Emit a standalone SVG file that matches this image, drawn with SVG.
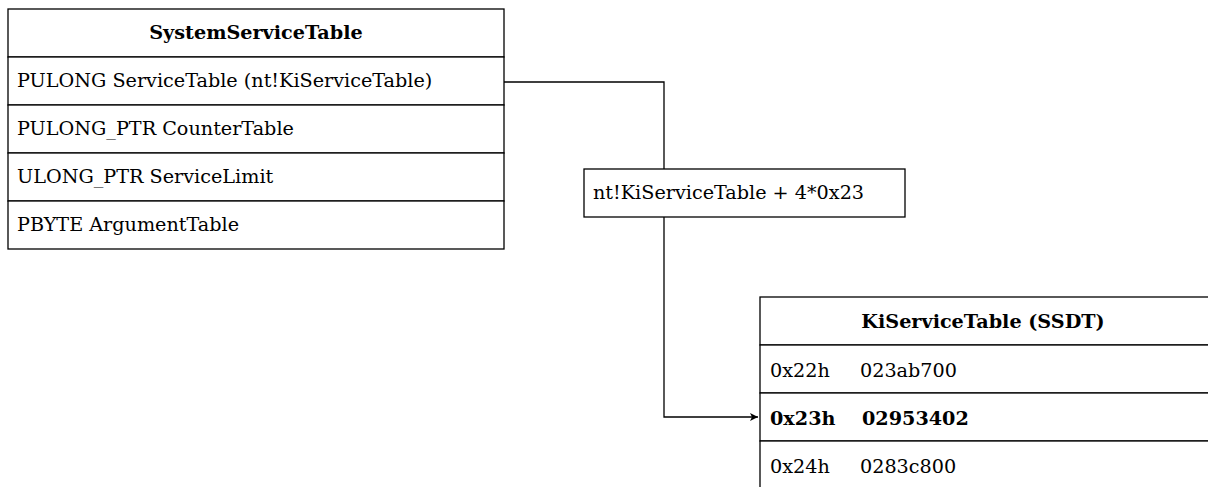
<svg xmlns="http://www.w3.org/2000/svg" width="1208" height="487" viewBox="0 0 1208 487">
<defs>
<style>
.box{fill:#fff;stroke:#000;stroke-width:1.3}
.t{font-family:"DejaVu Serif",serif;font-size:19.2px;fill:#000}
.b{font-weight:bold}
.c{fill:none;stroke:#000;stroke-width:1.3}
</style>
<marker id="arr" markerWidth="10" markerHeight="10" refX="8" refY="5" orient="auto" markerUnits="userSpaceOnUse">
<path d="M0,1 L8,5 L0,9 L2,5 Z" fill="#000"/>
</marker>
</defs>
<rect width="1208" height="487" fill="#fff"/>
<g id="connectors">
<path class="c" d="M504,82 H664 V169"/>
<path class="c" d="M664,217 V417 H758" marker-end="url(#arr)"/>
</g>
<g id="systemservicetable">
<rect class="box" x="8" y="9" width="496" height="48"/>
<text class="t b" x="256" y="39" text-anchor="middle">SystemServiceTable</text>
<rect class="box" x="8" y="57" width="496" height="48"/>
<text class="t" x="17" y="87">PULONG ServiceTable (nt!KiServiceTable)</text>
<rect class="box" x="8" y="105" width="496" height="48"/>
<text class="t" x="17" y="135">PULONG_PTR CounterTable</text>
<rect class="box" x="8" y="153" width="496" height="48"/>
<text class="t" x="17" y="183">ULONG_PTR ServiceLimit</text>
<rect class="box" x="8" y="201" width="496" height="48"/>
<text class="t" x="17" y="231">PBYTE ArgumentTable</text>
</g>
<g id="label">
<rect class="box" x="584" y="169" width="321" height="48"/>
<text class="t" x="593" y="199">nt!KiServiceTable + 4*0x23</text>
</g>
<g id="kiservicetable">
<rect class="box" x="760" y="297" width="460" height="48"/>
<text class="t b" x="983" y="328" text-anchor="middle">KiServiceTable (SSDT)</text>
<rect class="box" x="760" y="345" width="460" height="48"/>
<text class="t" y="377"><tspan x="770">0x22h</tspan><tspan x="860">023ab700</tspan></text>
<rect class="box" x="760" y="393" width="460" height="48"/>
<text class="t b" y="425"><tspan x="770">0x23h</tspan><tspan x="862">02953402</tspan></text>
<rect class="box" x="760" y="441" width="460" height="48"/>
<text class="t" y="473"><tspan x="770">0x24h</tspan><tspan x="860">0283c800</tspan></text>
</g>
</svg>
